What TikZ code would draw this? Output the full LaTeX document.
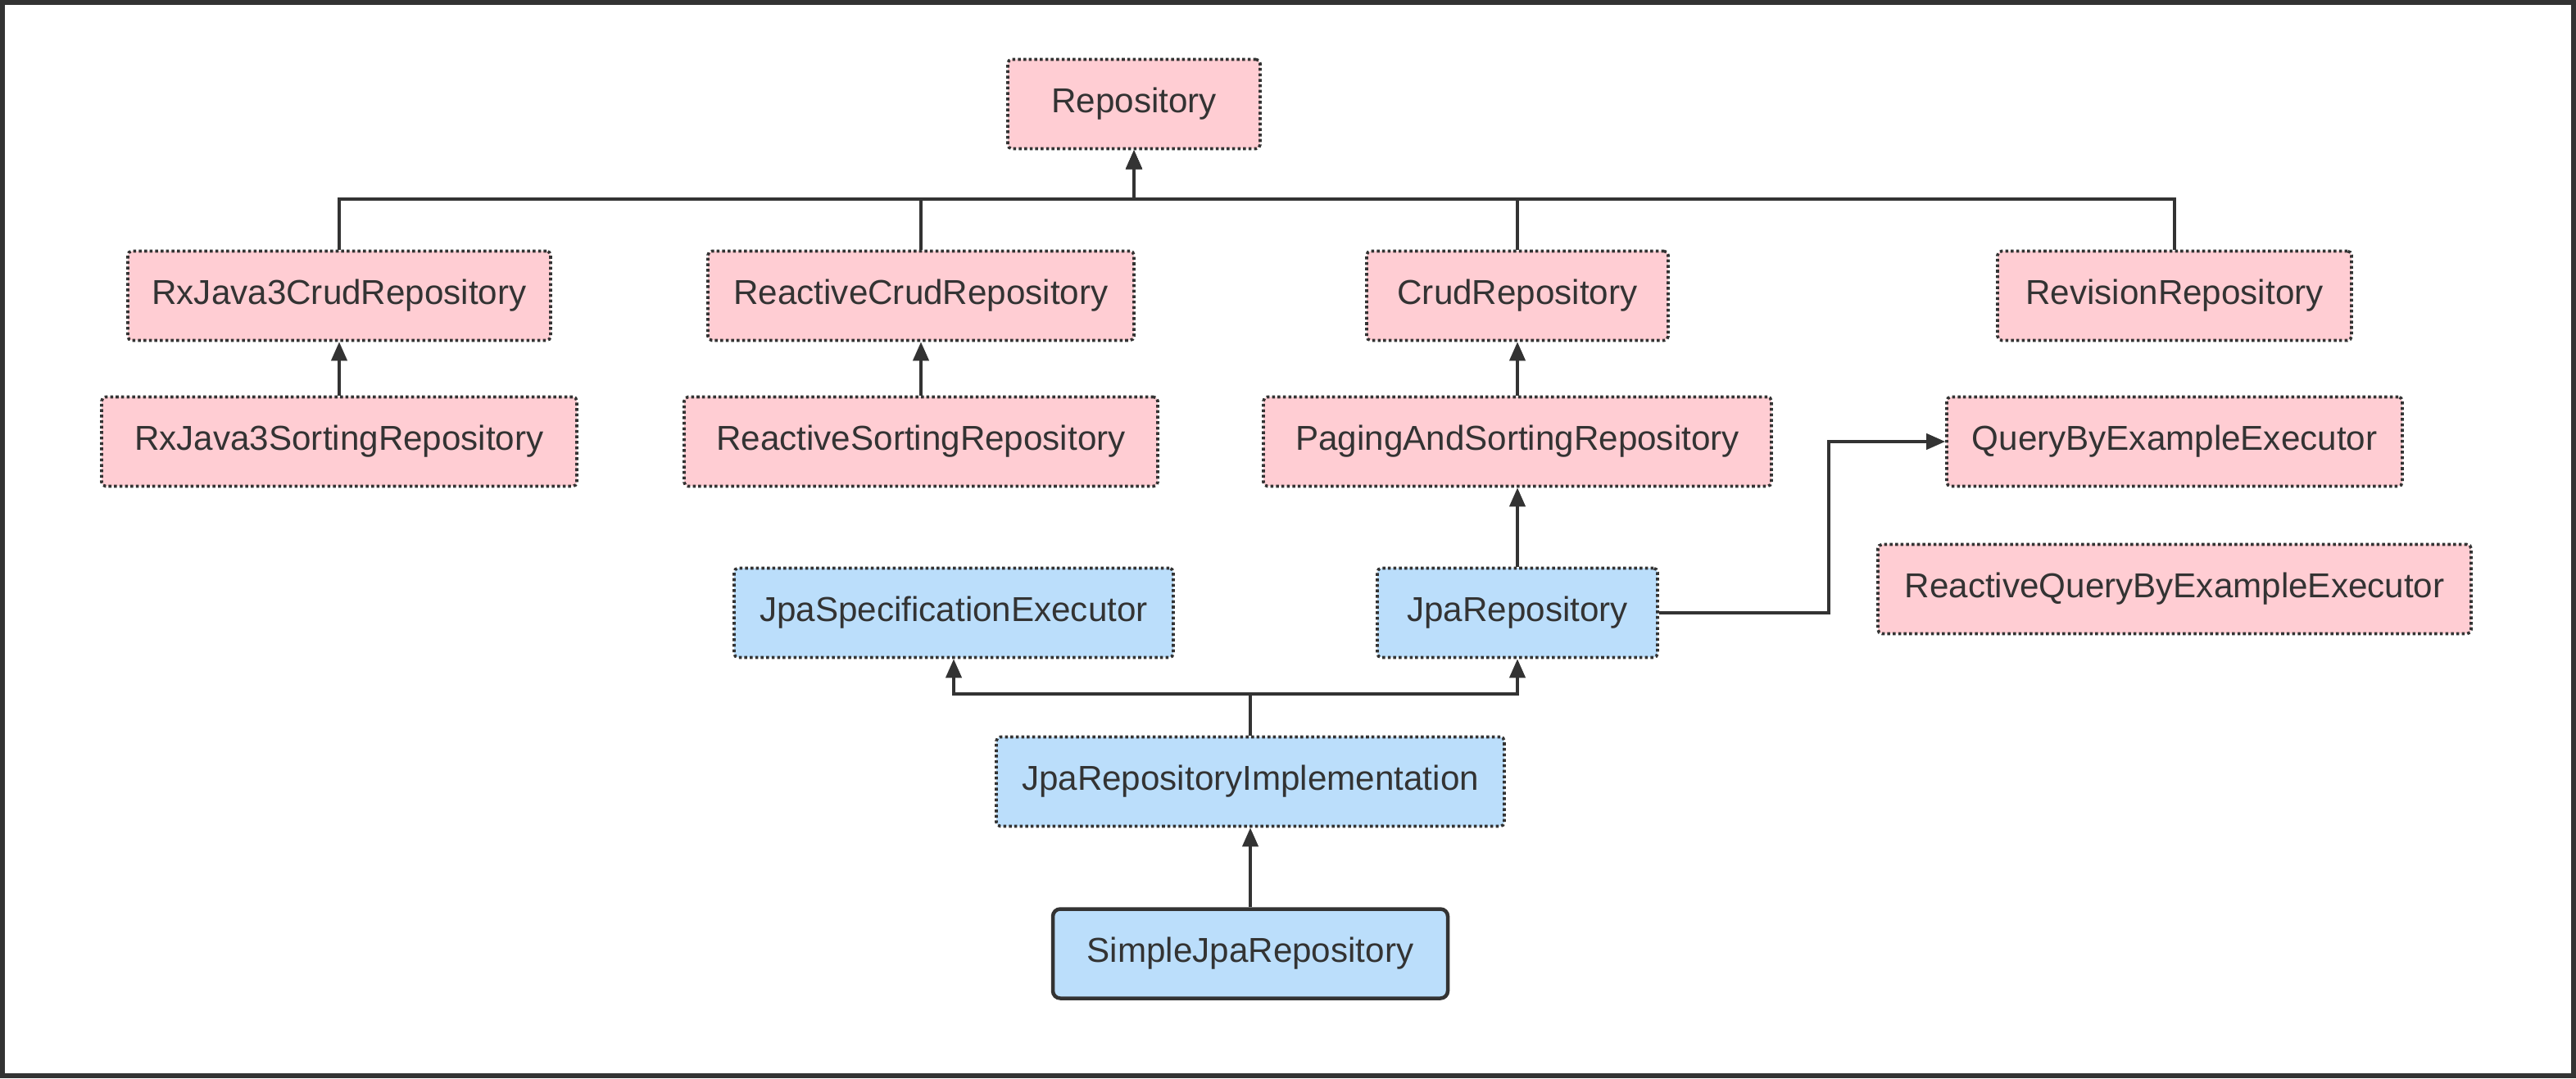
\documentclass[tikz,border=0pt]{standalone}
\usepackage{fontspec}
\setmainfont{Liberation Sans}
\usepackage{xcolor}
\usetikzlibrary{arrows.meta}
\usetikzlibrary{positioning}
\definecolor{ink}{HTML}{333333}
\definecolor{pinkfill}{HTML}{FFCDD3}
\definecolor{bluefill}{HTML}{BBDEFB}

\begin{document}
\begin{tikzpicture}[->, >={Triangle[length=0.23cm,width=0.19cm]}, draw=ink, line width=0.04cm, node distance=1.78cm]
    \tikzstyle{every node}=[font=\fontsize{12pt}{14pt}\selectfont, text=ink]
    \tikzstyle{iface}=[rectangle, rounded corners=0.05cm, fill=pinkfill, draw=ink, line width=0.036cm,
      dash pattern=on 1pt off 0.9pt, minimum height=1.09cm]
    \tikzstyle{jpaface}=[iface, fill=bluefill]
    \tikzstyle{impl}=[rectangle, rounded corners=0.09cm, fill=bluefill, draw=ink, line width=0.045cm,
      minimum height=1.09cm]
    \useasboundingbox (0,0) rectangle (31.44,13.16);
    \draw[-, draw=ink, line width=0.06cm] (0.03,0.03) rectangle (31.41,13.13);

    % spring data repositories
    \node[iface, minimum width=3.08cm]    (repo) at (13.84,11.89)	{Repository};
    \node[iface, minimum width=5.16cm]    (rxcrud) at (4.14,9.55)	{RxJava3CrudRepository};
    \node[iface, minimum width=5.20cm]    (reactcrud) at (11.24,9.55)	{ReactiveCrudRepository};
    \node[iface, minimum width=3.68cm]    (crud) at (18.52,9.55)	{CrudRepository};
    \node[iface, minimum width=4.32cm]    (revision) at (26.54,9.55)	{RevisionRepository};
    \node[iface, minimum width=5.80cm]    (rxsort)[below of=rxcrud]	{RxJava3SortingRepository};
    \node[iface, minimum width=5.78cm]    (reactsort)[below of=reactcrud]	{ReactiveSortingRepository};
    \node[iface, minimum width=6.20cm]    (paging)[below of=crud]	{PagingAndSortingRepository};
    \node[iface, minimum width=5.56cm]    (qbe)[below of=revision]	{QueryByExampleExecutor};
    \node[iface, minimum width=7.24cm]    (reactqbe) at (26.54,5.97)	{ReactiveQueryByExampleExecutor};

    % jpa
    \node[jpaface, minimum width=5.36cm]  (jpaspec) at (11.64,5.68)	{JpaSpecificationExecutor};
    \node[jpaface, minimum width=3.42cm]  (jparepo) at (18.52,5.68)	{JpaRepository};
    \node[jpaface, minimum width=6.20cm]  (jpaimpl) at (15.26,3.62)	{JpaRepositoryImplementation};
    \node[impl, minimum width=4.82cm]     (simple)[below of=jpaimpl, node distance=2.10cm]	{SimpleJpaRepository};

    \coordinate (hub) at (13.84,10.73);
    \coordinate (bend) at (22.32,0);
    \path[draw]
      (rxcrud.north) |- (hub) -- (repo.south);
    \path[draw]
      (reactcrud.north) |- (hub) -- (repo.south);
    \path[draw]
      (crud.north) |- (hub) -- (repo.south);
    \path[draw]
      (revision.north) |- (hub) -- (repo.south);
    \draw (rxsort) -- (rxcrud);
    \draw (reactsort) -- (reactcrud);
    \draw (paging) -- (crud);
    \draw (jparepo) -- (paging);
    \draw (jparepo.east) -| (bend |- qbe.west) -- (qbe.west);
    \draw (jpaimpl.north) -- ++(0,0.51) -| (jpaspec.south);
    \draw (jpaimpl.north) -- ++(0,0.51) -| (jparepo.south);
    \draw (simple) -- (jpaimpl);
  \end{tikzpicture}
\end{document}
